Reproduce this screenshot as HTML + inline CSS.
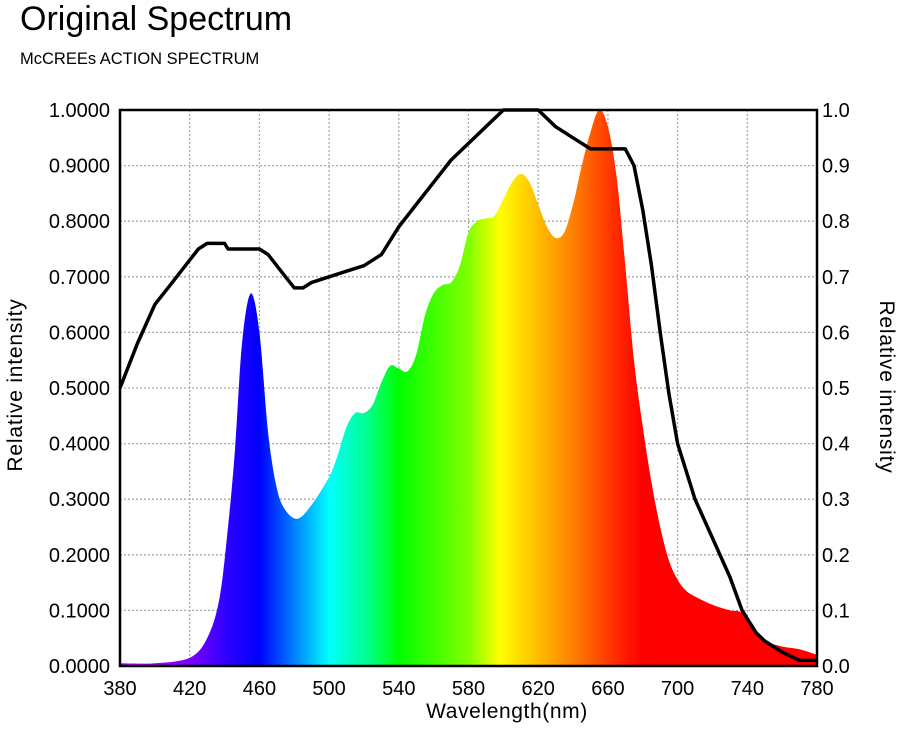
<!DOCTYPE html>
<html><head><meta charset="utf-8"><style>
body{margin:0;background:#fff;width:900px;height:740px;overflow:hidden;font-family:"Liberation Sans",sans-serif}
</style></head><body>
<svg id="chart" width="900" height="740" xmlns="http://www.w3.org/2000/svg" font-family="Liberation Sans, sans-serif">
<text x="20" y="30" font-size="34" fill="#000">Original Spectrum</text>
<text x="20" y="64" font-size="16.5" fill="#000">McCREEs ACTION SPECTRUM</text>
<defs>
<linearGradient id="spec" gradientUnits="userSpaceOnUse" x1="120" y1="0" x2="817" y2="0">
<stop offset="0" stop-color="#c000ff"/>
<stop offset="0.1" stop-color="#8000ff"/>
<stop offset="0.15" stop-color="#3000ff"/>
<stop offset="0.2" stop-color="#0000ff"/>
<stop offset="0.3" stop-color="#00ffff"/>
<stop offset="0.36" stop-color="#00ff80"/>
<stop offset="0.4" stop-color="#00ff00"/>
<stop offset="0.5" stop-color="#80ff00"/>
<stop offset="0.545" stop-color="#ffff00"/>
<stop offset="0.65" stop-color="#ff8000"/>
<stop offset="0.72" stop-color="#ff2000"/>
<stop offset="0.75" stop-color="#ff0000"/>
<stop offset="1" stop-color="#ff0000"/>
</linearGradient>
</defs>
<g id="grid"></g>
<path id="area" fill="url(#spec)"/>
<path id="line" fill="none" stroke="#000" stroke-width="3.5" stroke-linejoin="round"/>
<rect x="120" y="110" width="697" height="556" fill="none" stroke="#000" stroke-width="2.5"/>
<g id="axes" font-size="20" fill="#000"></g>
<text x="507" y="718" font-size="21" letter-spacing="0.6" text-anchor="middle">Wavelength(nm)</text>
<text transform="translate(22,385) rotate(-90)" font-size="21" letter-spacing="0.8" text-anchor="middle">Relative intensity</text>
<text transform="translate(880,387) rotate(90)" font-size="21" letter-spacing="0.8" text-anchor="middle">Relative intensity</text>
</svg>
<script>
const xTicks=[380,420,460,500,540,580,620,660,700,740,780];
const yTicksLeft=["0.0000","0.1000","0.2000","0.3000","0.4000","0.5000","0.6000","0.7000","0.8000","0.9000","1.0000"];
const yTicksRight=["0.0","0.1","0.2","0.3","0.4","0.5","0.6","0.7","0.8","0.9","1.0"];
const specWl=[380,400,420,430,437,442,446,450,455,460,465,470,475,482,490,500,505,510,515,520,525,530,535,540,545,550,555,560,565,570,575,580,585,590,595,600,605,610,615,620,625,630,635,640,645,650,655,660,665,670,675,680,685,690,695,700,705,710,720,730,737,745,750,760,770,780];
const specVal=[0.005,0.005,0.015,0.05,0.12,0.25,0.39,0.58,0.67,0.6,0.42,0.32,0.28,0.265,0.29,0.34,0.38,0.43,0.455,0.455,0.47,0.51,0.54,0.535,0.53,0.56,0.63,0.67,0.685,0.69,0.72,0.78,0.80,0.805,0.81,0.84,0.87,0.885,0.87,0.83,0.79,0.77,0.78,0.83,0.9,0.96,1.0,0.97,0.88,0.72,0.55,0.43,0.33,0.25,0.19,0.155,0.135,0.125,0.11,0.1,0.095,0.06,0.045,0.035,0.03,0.02];
const actWl=[380,390,400,410,420,425,430,440,442,460,465,470,475,480,485,490,500,510,520,530,540,550,560,570,580,590,600,620,630,640,650,665,670,675,680,685,690,695,700,710,720,730,737,745,750,760,770,780];
const actVal=[0.5,0.58,0.65,0.69,0.73,0.75,0.76,0.76,0.75,0.75,0.74,0.72,0.70,0.68,0.68,0.69,0.70,0.71,0.72,0.74,0.79,0.83,0.87,0.91,0.94,0.97,1.0,1.0,0.97,0.95,0.93,0.93,0.93,0.9,0.82,0.72,0.6,0.49,0.40,0.3,0.23,0.16,0.1,0.06,0.045,0.025,0.01,0.01];
const X=w=>120+(w-380)*697/400;
const Y=v=>666-v*556;
const NS="http://www.w3.org/2000/svg";
const grid=document.getElementById('grid'),axes=document.getElementById('axes');
xTicks.forEach(w=>{
 const l=document.createElementNS(NS,'line');
 
 
 l.setAttribute('x1',X(w));l.setAttribute('x2',X(w));l.setAttribute('y1',110);l.setAttribute('y2',666);
 l.setAttribute('stroke','#aaa');l.setAttribute('stroke-dasharray','2 2');l.setAttribute('stroke-width','1.3');
 grid.appendChild(l);
 const t=document.createElementNS(NS,'text');
 
 
 t.setAttribute('x',X(w));t.setAttribute('y',695);t.setAttribute('text-anchor','middle');
 t.textContent=w;axes.appendChild(t);
});
yTicksLeft.forEach((s,i)=>{
 const v=i/10;
 const l=document.createElementNS(NS,'line');
 
 
 l.setAttribute('x1',120);l.setAttribute('x2',817);l.setAttribute('y1',Y(v));l.setAttribute('y2',Y(v));
 l.setAttribute('stroke','#aaa');l.setAttribute('stroke-dasharray','2 2');l.setAttribute('stroke-width','1.3');
 grid.appendChild(l);
 const t=document.createElementNS(NS,'text');
 
 
 t.setAttribute('x',110);t.setAttribute('y',Y(v)+7);t.setAttribute('text-anchor','end');
 t.textContent=s;axes.appendChild(t);
 const r=document.createElementNS(NS,'text');
 
 
 r.setAttribute('x',822);r.setAttribute('y',Y(v)+7);
 r.textContent=yTicksRight[i];axes.appendChild(r);
});
const pts=specWl.map((w,i)=>[X(w),Y(specVal[i])]);
let d='M'+pts[0][0]+','+Y(0)+' L'+pts[0][0].toFixed(1)+','+pts[0][1].toFixed(1);
for(let i=0;i<pts.length-1;i++){
 const p0=pts[Math.max(0,i-1)],p1=pts[i],p2=pts[i+1],p3=pts[Math.min(pts.length-1,i+2)];
 const c1=[p1[0]+(p2[0]-p0[0])/6,p1[1]+(p2[1]-p0[1])/6];
 const c2=[p2[0]-(p3[0]-p1[0])/6,p2[1]-(p3[1]-p1[1])/6];
 d+=' C'+c1[0].toFixed(1)+','+Math.min(Y(0),c1[1]).toFixed(1)+' '+c2[0].toFixed(1)+','+Math.min(Y(0),c2[1]).toFixed(1)+' '+p2[0].toFixed(1)+','+p2[1].toFixed(1);
}
d+=' L'+pts[pts.length-1][0]+','+Y(0)+' Z';
document.getElementById('area').setAttribute('d',d);
let d2='';
actWl.forEach((w,i)=>{d2+=(i?' L':'M')+X(w).toFixed(1)+','+Y(actVal[i]).toFixed(1);});
document.getElementById('line').setAttribute('d',d2);
</script>
</body></html>
